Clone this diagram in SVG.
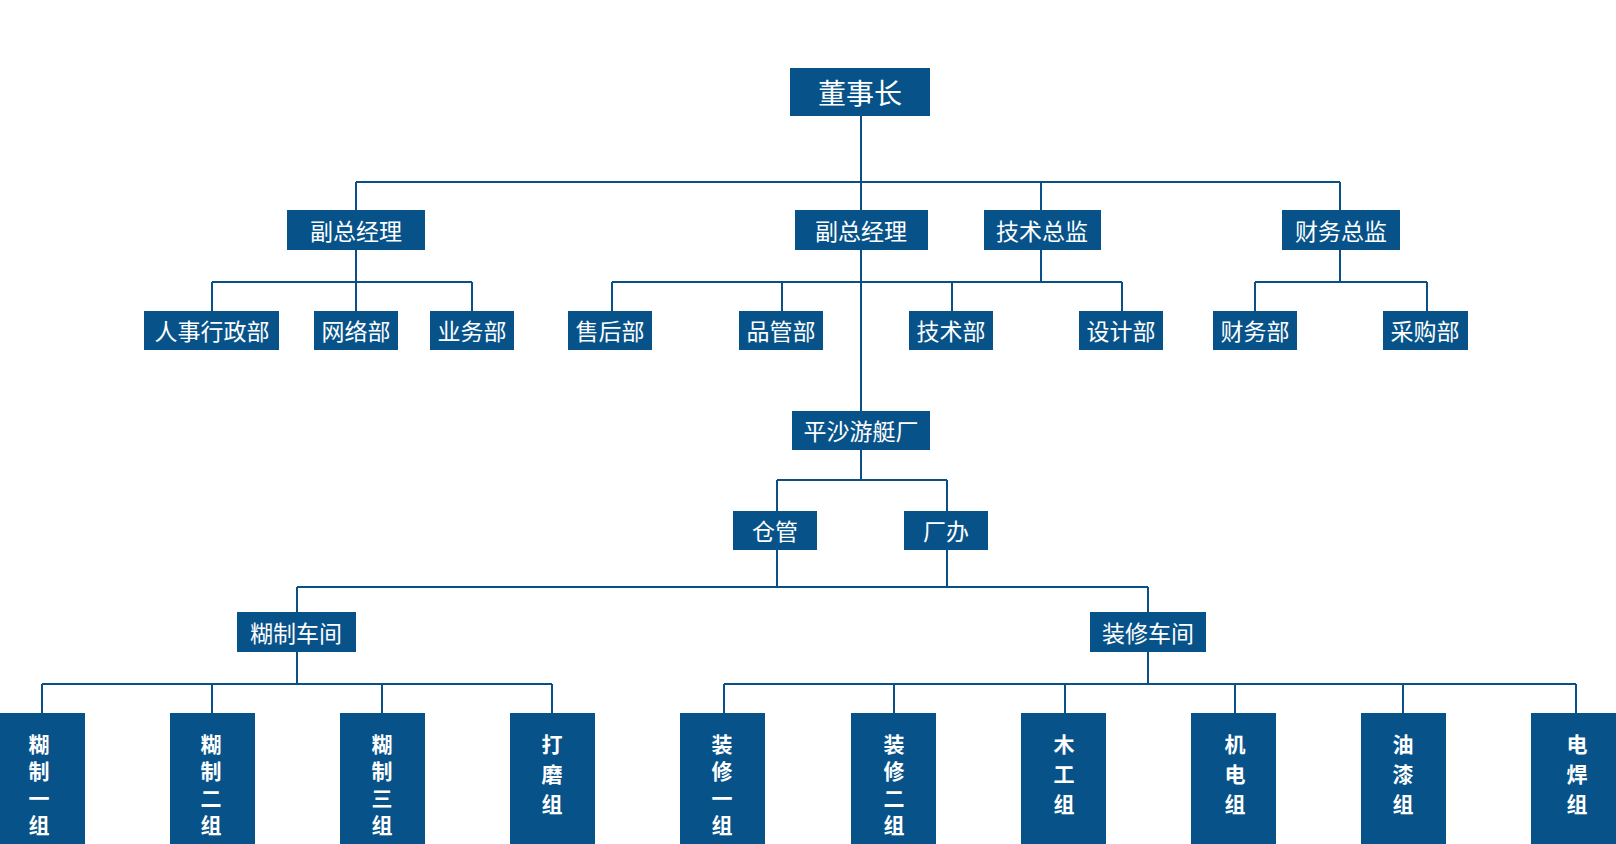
<svg xmlns="http://www.w3.org/2000/svg" width="1616" height="844" viewBox="0 0 1616 844">
<style>
.b{fill:#075389}
.t{fill:#fff;font-family:"Noto Sans CJK SC",sans-serif;font-size:23px;text-anchor:middle;dominant-baseline:central}
.v{font-weight:bold;font-size:21px}
#c path{stroke:#0a4f86;stroke-width:2;fill:none}
</style>
<rect width="1616" height="844" fill="#fff"/>
<g id="c">
<path d="M861 116V411M356 182H1340M356 182V210M1041 182V210M1340 182V210"/>
<path d="M212 282H472M212 282V311M356 250V311M472 282V311"/>
<path d="M612 282H1122M612 282V311M782 282V311M952 282V311M1122 282V311M1041 250V282"/>
<path d="M1255 282H1427M1255 282V311M1427 282V311M1340 250V282"/>
<path d="M777 480H947M777 480V511M947 480V511M861 450V480"/>
<path d="M777 550V587M947 550V587M297 587H1148M297 587V612M1148 587V612"/>
<path d="M42 684H552M42 684V713M212 684V713M382 684V713M552 684V713M297 652V684"/>
<path d="M724 684H1576M724 684V713M894 684V713M1065 684V713M1235 684V713M1403 684V713M1576 684V713M1148 652V684"/>
</g>
<g id="n0"><rect class="b" x="790" y="68" width="140" height="48"/><text class="t" x="860" y="92" style="font-size:28px">董事长</text></g>
<g id="n1"><rect class="b" x="287" y="210" width="138" height="40"/><text class="t" x="356" y="230">副总经理</text></g>
<g id="n2"><rect class="b" x="795" y="210" width="133" height="40"/><text class="t" x="861" y="230">副总经理</text></g>
<g id="n3"><rect class="b" x="984" y="210" width="117" height="40"/><text class="t" x="1042" y="230">技术总监</text></g>
<g id="n4"><rect class="b" x="1282" y="210" width="118" height="40"/><text class="t" x="1341" y="230">财务总监</text></g>
<g id="n5"><rect class="b" x="144" y="311" width="135" height="39"/><text class="t" x="212" y="330">人事行政部</text></g>
<g id="n6"><rect class="b" x="314" y="311" width="84" height="39"/><text class="t" x="356" y="330">网络部</text></g>
<g id="n7"><rect class="b" x="430" y="311" width="84" height="39"/><text class="t" x="472" y="330">业务部</text></g>
<g id="n8"><rect class="b" x="568" y="311" width="84" height="39"/><text class="t" x="610" y="330">售后部</text></g>
<g id="n9"><rect class="b" x="739" y="311" width="84" height="39"/><text class="t" x="781" y="330">品管部</text></g>
<g id="n10"><rect class="b" x="909" y="311" width="84" height="39"/><text class="t" x="951" y="330">技术部</text></g>
<g id="n11"><rect class="b" x="1079" y="311" width="84" height="39"/><text class="t" x="1121" y="330">设计部</text></g>
<g id="n12"><rect class="b" x="1213" y="311" width="84" height="39"/><text class="t" x="1255" y="330">财务部</text></g>
<g id="n13"><rect class="b" x="1383" y="311" width="85" height="39"/><text class="t" x="1425" y="330">采购部</text></g>
<g id="n14"><rect class="b" x="792" y="411" width="138" height="39"/><text class="t" x="861" y="430">平沙游艇厂</text></g>
<g id="n15"><rect class="b" x="733" y="511" width="84" height="39"/><text class="t" x="775" y="530">仓管</text></g>
<g id="n16"><rect class="b" x="904" y="511" width="84" height="39"/><text class="t" x="946" y="530">厂办</text></g>
<g id="n17"><rect class="b" x="237" y="612" width="119" height="40"/><text class="t" x="296" y="632">糊制车间</text></g>
<g id="n18"><rect class="b" x="1090" y="612" width="116" height="40"/><text class="t" x="1148" y="632">装修车间</text></g>
<g id="n19"><rect class="b" x="0" y="713" width="85" height="131"/><text class="t v"><tspan x="39" y="743">糊</tspan><tspan x="39" y="770">制</tspan><tspan x="39" y="797">一</tspan><tspan x="39" y="824">组</tspan></text></g>
<g id="n20"><rect class="b" x="170" y="713" width="85" height="131"/><text class="t v"><tspan x="211" y="743">糊</tspan><tspan x="211" y="770">制</tspan><tspan x="211" y="797">二</tspan><tspan x="211" y="824">组</tspan></text></g>
<g id="n21"><rect class="b" x="340" y="713" width="85" height="131"/><text class="t v"><tspan x="382" y="743">糊</tspan><tspan x="382" y="770">制</tspan><tspan x="382" y="797">三</tspan><tspan x="382" y="824">组</tspan></text></g>
<g id="n22"><rect class="b" x="510" y="713" width="85" height="131"/><text class="t v"><tspan x="552" y="743">打</tspan><tspan x="552" y="773">磨</tspan><tspan x="552" y="803">组</tspan></text></g>
<g id="n23"><rect class="b" x="680" y="713" width="85" height="131"/><text class="t v"><tspan x="722" y="743">装</tspan><tspan x="722" y="770">修</tspan><tspan x="722" y="797">一</tspan><tspan x="722" y="824">组</tspan></text></g>
<g id="n24"><rect class="b" x="851" y="713" width="85" height="131"/><text class="t v"><tspan x="894" y="743">装</tspan><tspan x="894" y="770">修</tspan><tspan x="894" y="797">二</tspan><tspan x="894" y="824">组</tspan></text></g>
<g id="n25"><rect class="b" x="1021" y="713" width="85" height="131"/><text class="t v"><tspan x="1064" y="743">木</tspan><tspan x="1064" y="773">工</tspan><tspan x="1064" y="803">组</tspan></text></g>
<g id="n26"><rect class="b" x="1191" y="713" width="85" height="131"/><text class="t v"><tspan x="1235" y="743">机</tspan><tspan x="1235" y="773">电</tspan><tspan x="1235" y="803">组</tspan></text></g>
<g id="n27"><rect class="b" x="1361" y="713" width="85" height="131"/><text class="t v"><tspan x="1403" y="743">油</tspan><tspan x="1403" y="773">漆</tspan><tspan x="1403" y="803">组</tspan></text></g>
<g id="n28"><rect class="b" x="1531" y="713" width="85" height="131"/><text class="t v"><tspan x="1577" y="743">电</tspan><tspan x="1577" y="773">焊</tspan><tspan x="1577" y="803">组</tspan></text></g>
</svg>
